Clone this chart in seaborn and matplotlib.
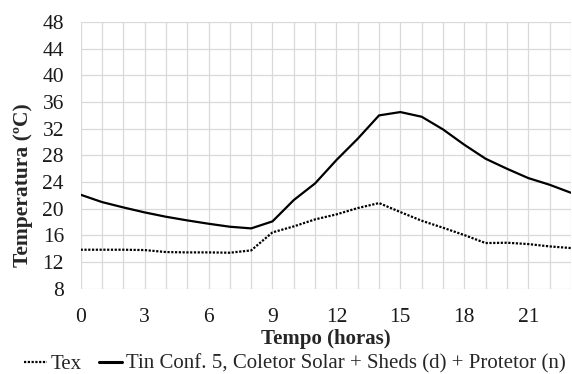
import matplotlib
matplotlib.use("Agg")
import matplotlib.pyplot as plt
from matplotlib.ticker import MultipleLocator
from matplotlib.lines import Line2D
import pandas as pd
import seaborn as sns

# hourly temperatures
hours = list(range(24))
tin = [22.1, 21.0, 20.2, 19.45, 18.8, 18.25, 17.75, 17.3, 17.05, 18.1, 21.3, 23.8,
       27.3, 30.5, 34.0, 34.5, 33.8, 31.9, 29.6, 27.5, 26.0, 24.6, 23.6, 22.4]
tex = [13.85, 13.85, 13.85, 13.8, 13.5, 13.45, 13.45, 13.4, 13.75, 16.45, 17.35, 18.4,
       19.15, 20.1, 20.85, 19.5, 18.2, 17.15, 16.05, 14.85, 14.9, 14.7, 14.35, 14.1]

TEX = "Tex"
TIN = "Tin Conf. 5, Coletor Solar + Sheds (d) + Protetor (n)"
x_ticks = [0, 3, 6, 9, 12, 15, 18, 21]
y_ticks = list(range(8, 49, 4))


def main():
    sns.set_style("white")
    plt.rcParams["font.family"] = ["Liberation Serif", "DejaVu Serif"]

    df = pd.concat([
        pd.DataFrame({"hora": hours, "temp": tex, "serie": TEX}),
        pd.DataFrame({"hora": hours, "temp": tin, "serie": TIN}),
    ], ignore_index=True)

    fig = plt.figure(figsize=(5.72, 3.74), dpi=100)
    ax = fig.add_axes([0.141, 0.228, 0.857, 0.713])

    sns.lineplot(data=df[df.serie == TEX], x="hora", y="temp", color="black",
                 linewidth=1.6, ax=ax, legend=False)
    ax.lines[-1].set_dashes((1, 0.7))
    sns.lineplot(data=df[df.serie == TIN], x="hora", y="temp", color="black",
                 linewidth=1.6, ax=ax, legend=False)

    ax.set_xlim(0, 23)
    ax.set_ylim(8, 48)
    ax.set_xticks(x_ticks)
    ax.xaxis.set_minor_locator(MultipleLocator(1))
    ax.set_yticks(y_ticks)
    ax.grid(True, which="both", axis="x", color="#d9d9d9", linewidth=0.9)
    ax.grid(True, which="major", axis="y", color="#d9d9d9", linewidth=0.9)
    ax.set_axisbelow(True)
    for s in ax.spines.values():
        s.set_visible(False)
    ax.tick_params(axis="both", which="both", length=0, labelsize=15.5,
                   colors="#1a1a1a")
    ax.tick_params(axis="y", pad=12)
    ax.tick_params(axis="x", pad=14)

    ax.set_xlabel("Tempo (horas)", fontsize=15, fontweight="bold", labelpad=1)
    ax.set_ylabel("Temperatura (ºC)", fontsize=15.5, fontweight="bold")
    ax.yaxis.set_label_coords(-0.098, 0.39)

    handles = [
        Line2D([], [], color="black", linewidth=1.6, dashes=(1, 0.7)),
        Line2D([], [], color="black", linewidth=2.2),
    ]
    fig.legend(handles, [TEX, TIN], loc="lower center",
               bbox_to_anchor=(0.515, -0.05), ncol=2, frameon=False,
               fontsize=15, handlelength=1.1, handletextpad=0.2,
               columnspacing=0.8)

    fig.savefig("out.png", dpi=100)


if __name__ == "__main__":
    main()
